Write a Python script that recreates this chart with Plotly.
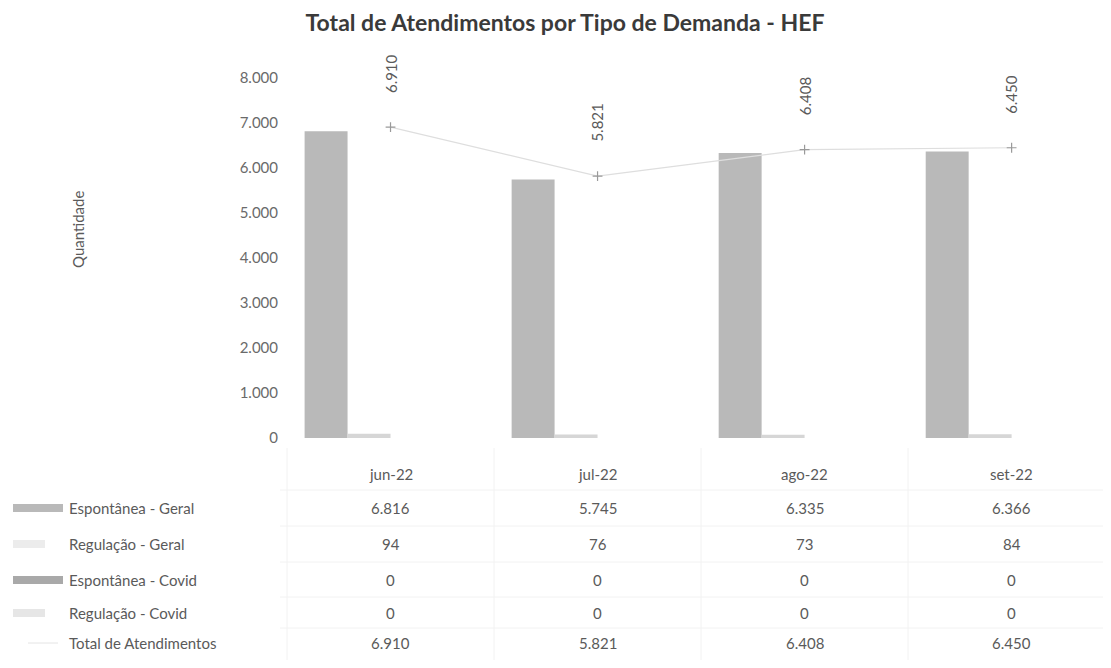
import plotly.graph_objects as go

categories = ["jun-22", "jul-22", "ago-22", "set-22"]
espontanea_geral = [6816, 5745, 6335, 6366]
regulacao_geral = [94, 76, 73, 84]
espontanea_covid = [0, 0, 0, 0]
regulacao_covid = [0, 0, 0, 0]
total_atendimentos = [6910, 5821, 6408, 6450]

series_names = ["Espontânea - Geral", "Regulação - Geral", "Espontânea - Covid",
                "Regulação - Covid", "Total de Atendimentos"]
series_values = [espontanea_geral, regulacao_geral, espontanea_covid,
                 regulacao_covid, total_atendimentos]
bar_colors = ["#b9b9b9", "#d6d6d6", "#a9a9a9", "#dcdcdc"]

FONT = "Lato, 'Open Sans', sans-serif"
TXT = "#5a5a5a"
OFF = 8  # page body margin offset
W, H = 1111 - OFF, 668 - OFF

fig = go.Figure()
for name, vals, col in zip(series_names[:4], series_values[:4], bar_colors):
    fig.add_trace(go.Bar(x=categories, y=vals, name=name, marker_color=col,
                         marker_line_width=0))

fig.add_trace(go.Scatter(x=categories, y=total_atendimentos, name=series_names[4],
                         mode="lines+markers",
                         line=dict(color="#dedede", width=1.2),
                         marker=dict(symbol="cross-thin", size=7,
                                     line=dict(color="#9a9a9a", width=1.2))))

def fmt(v):
    return f"{v:,}".replace(",", ".")

annotations = []
for c, v in zip(categories, total_atendimentos):
    annotations.append(dict(x=c, y=v, xref="x", yref="y", text=fmt(v),
                            textangle=-90, showarrow=False, yanchor="bottom",
                            xanchor="center", yshift=32,
                            font=dict(family=FONT, size=15, color=TXT)))

plot_top, plot_bottom = 78 - OFF, 438 - OFF
ph = plot_bottom - plot_top
def py(p):
    return (plot_bottom - (p - OFF)) / ph

l_margin = 287 - OFF
plot_w = W - l_margin
def pxp(p):
    return ((p - OFF) - l_margin) / plot_w

row_y = [508, 544, 580, 613, 643]
header_y = 474
for c in categories:
    annotations.append(dict(x=c, y=py(header_y), xref="x", yref="paper", text=c,
                            showarrow=False, yanchor="middle",
                            font=dict(family=FONT, size=15, color=TXT)))
for ry, vals in zip(row_y, series_values):
    for c, v in zip(categories, vals):
        annotations.append(dict(x=c, y=py(ry), xref="x", yref="paper", text=fmt(v),
                                showarrow=False, yanchor="middle",
                                font=dict(family=FONT, size=15, color=TXT)))

for ry, name in zip(row_y, series_names):
    annotations.append(dict(x=pxp(67), y=py(ry), xref="paper", yref="paper", text=name,
                            showarrow=False, xanchor="left", yanchor="middle",
                            font=dict(family=FONT, size=15, color=TXT)))

annotations.append(dict(x=pxp(78), y=py(230), xref="paper", yref="paper", text="Quantidade",
                        textangle=-90, showarrow=False, xanchor="center", yanchor="middle",
                        font=dict(family=FONT, size=15, color=TXT)))

shapes = []
swatch = [(13, 63, bar_colors[0]), (13, 45, "#ececec"), (13, 63, bar_colors[2]), (13, 45, "#e6e6e6")]
for ry, (x0, x1, col) in zip(row_y[:4], swatch):
    shapes.append(dict(type="rect", xref="paper", yref="paper",
                       x0=pxp(x0), x1=pxp(x1), y0=py(ry + 4), y1=py(ry - 4),
                       fillcolor=col, line=dict(width=0)))
shapes.append(dict(type="line", xref="paper", yref="paper", x0=pxp(28), x1=pxp(58),
                   y0=py(643), y1=py(643), line=dict(color="#e4e4e4", width=1)))
for gy in [490, 526, 562, 597, 628]:
    shapes.append(dict(type="line", xref="paper", yref="paper", x0=pxp(280), x1=1,
                       y0=py(gy), y1=py(gy), line=dict(color="#f2f2f2", width=1)))
for gx in [287, 494, 701, 908]:
    shapes.append(dict(type="line", xref="paper", yref="paper", x0=pxp(gx), x1=pxp(gx),
                       y0=py(448), y1=py(660), line=dict(color="#f2f2f2", width=1)))

fig.update_layout(
    width=W, height=H,
    margin=dict(l=l_margin, r=0, t=plot_top, b=H - plot_bottom),
    paper_bgcolor="white", plot_bgcolor="white",
    separators=",.",
    barmode="group", bargap=0.17, bargroupgap=0,
    showlegend=False,
    title=dict(text="<b>Total de Atendimentos por Tipo de Demanda - HEF</b>",
               x=(565 - OFF) / W, xanchor="center", y=1 - (23 - OFF) / H, yanchor="middle",
               font=dict(family=FONT, size=23, color="#3a3a3a")),
    xaxis=dict(range=[-0.5, 3.48], showticklabels=False, showgrid=False,
               zeroline=False, showline=False, ticks=""),
    yaxis=dict(range=[0, 8000], dtick=1000, tickformat=",d", showgrid=False,
               zeroline=False, showline=False, ticks="",
               tickfont=dict(family=FONT, size=15, color="#6a6a6a"),
               ticklabelstandoff=8),
    annotations=annotations, shapes=shapes,
)

fig.write_html("out.html")
